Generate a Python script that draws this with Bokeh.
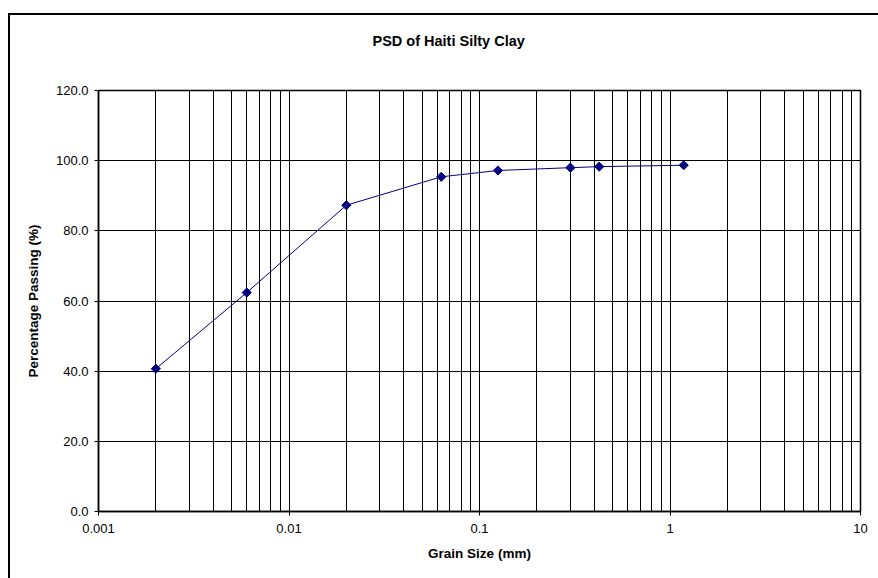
import math
from bokeh.plotting import figure
from bokeh.models import FixedTicker, Range1d, LogAxis
from bokeh.embed import file_html
from bokeh.resources import INLINE

# Data
grain_size_mm = [0.002, 0.006, 0.02, 0.063, 0.125, 0.3, 0.425, 1.18]
percent_passing = [40.7, 62.4, 87.3, 95.4, 97.2, 98.0, 98.3, 98.7]

x_major_ticks = [0.001, 0.01, 0.1, 1, 10]
x_tick_labels = ["0.001", "0.01", "0.1", "1", "10"]
y_ticks = [0, 20, 40, 60, 80, 100, 120]
y_tick_labels = ["0.0", "20.0", "40.0", "60.0", "80.0", "100.0", "120.0"]

title_text = "PSD of Haiti Silty Clay"

x_minor_ticks = [m * 10.0 ** e for e in range(-3, 1) for m in range(2, 10)]

FONT = "Liberation Sans"

p = figure(
    width=870, height=565,
    x_axis_type="log",
    x_range=Range1d(0.001, 10), y_range=Range1d(0, 120),
    output_backend="svg", toolbar_location=None,
    min_border_left=88, min_border_right=20, min_border_top=75, min_border_bottom=69,
    margin=(13, 0, 0, 8),
    styles={"border-left": "2px solid #000", "border-top": "2px solid #000"},
)

# invisible spacer axis above the frame, pushes the title up
spacer = LogAxis(ticker=FixedTicker(ticks=[x_major_ticks[0]]), axis_line_color=None,
                 major_tick_line_color=None, minor_tick_line_color=None,
                 major_tick_in=0, major_tick_out=37, minor_tick_in=0, minor_tick_out=0,
                 major_label_standoff=0, major_label_text_font_size="0px",
                 major_label_text_color=None,
                 major_label_overrides={x_major_ticks[0]: ""})
p.add_layout(spacer, "above")

p.title.text = title_text
p.title.text_font = FONT
p.title.text_font_size = "14.5px"
p.title.text_font_style = "bold"
p.title.text_color = "black"
p.title.align = "left"
p.title.offset = 274
p.title.standoff = 10

p.outline_line_color = "black"
p.outline_line_width = 1.5
p.background_fill_color = "white"
p.border_fill_color = "white"

# x axis (bottom)
xaxis = p.below[0]
xaxis.ticker = FixedTicker(ticks=x_major_ticks, minor_ticks=x_minor_ticks)
xaxis.major_label_overrides = {t: l for t, l in zip(x_major_ticks, x_tick_labels)}
xaxis.axis_label = "Grain Size (mm)"
# y axis
yaxis = p.left[0]
yaxis.ticker = FixedTicker(ticks=y_ticks)
yaxis.major_label_overrides = {t: l for t, l in zip(y_ticks, y_tick_labels)}
yaxis.axis_label = "Percentage Passing (%)"

for ax in (xaxis, yaxis):
    ax.axis_line_color = "black"
    ax.axis_line_width = 1.5
    ax.major_tick_line_color = "black"
    ax.major_tick_in = 0
    ax.major_tick_out = 4
    ax.minor_tick_line_color = None
    ax.major_label_text_font = FONT
    ax.major_label_text_font_size = "13px"
    ax.major_label_text_color = "black"
    ax.axis_label_text_font = FONT
    ax.axis_label_text_font_size = "13.5px"
    ax.axis_label_text_font_style = "bold"
    ax.axis_label_text_color = "black"

xaxis.major_label_standoff = 8
xaxis.axis_label_standoff = 10
yaxis.major_label_standoff = 6
yaxis.axis_label_standoff = 12

p.xgrid.grid_line_color = "black"
p.xgrid.grid_line_width = 1
p.xgrid.minor_grid_line_color = "black"
p.xgrid.minor_grid_line_width = 1
p.ygrid.grid_line_color = "black"
p.ygrid.grid_line_width = 1

p.line(grain_size_mm, percent_passing, line_color="#000080", line_width=1)
p.scatter(grain_size_mm, percent_passing, marker="square", size=6.5, angle=math.pi / 4,
          fill_color="#000080", line_color="#000080")

open("out.html", "w").write(file_html(p, INLINE))
